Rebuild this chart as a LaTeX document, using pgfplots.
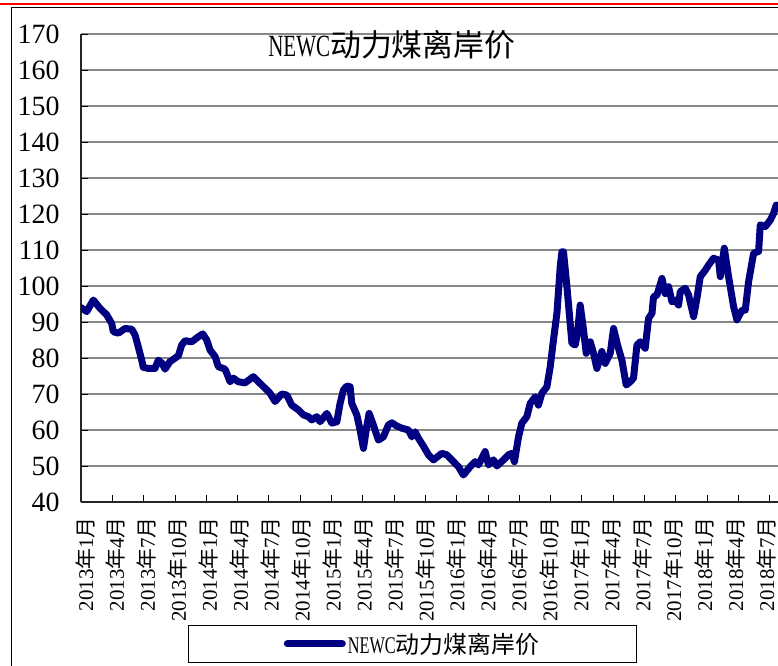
\documentclass[border=0pt]{standalone}
\usepackage{fontspec}
\setmainfont{Liberation Serif}
\newfontfamily\cjk{Noto Sans CJK SC}
\newfontfamily\narrow[FakeStretch=0.68]{Liberation Serif}
\usepackage{pgfplots}
\pgfplotsset{compat=1.18}
\definecolor{navy}{RGB}{0,0,128}
\definecolor{gridgray}{RGB}{135,135,135}
\newcommand{\ym}[2]{#1{\cjk 年}#2{\cjk 月}}
\begin{document}
\begin{tikzpicture}[x=1bp,y=1bp]
\useasboundingbox (0,0) rectangle (778,666);
\fill[white] (0,0) rectangle (778,666);
\draw[red, line width=2.5bp] (0,662) -- (778,662);
\draw[black, line width=0.8bp] (11,-2) -- (11,659) -- (780,659);
\begin{axis}[
  at={(81bp,164bp)}, anchor=south west,
  width=697bp, height=468bp, scale only axis,
  xmin=0, xmax=66.8, ymin=40, ymax=170,
  axis x line*=bottom, axis y line*=left,
  axis line style={-, black!85, line width=1.6bp},
  tick align=inside,
  ytick={40,50,...,170},
  xtick={0,3,...,66},
  xticklabels={},
  extra x ticks={0.29,3.26,6.22,9.19,12.16,15.13,18.09,21.06,24.03,26.99,29.96,32.93,
                 35.89,38.86,41.83,44.80,47.76,50.73,53.70,56.66,59.63,62.60,65.56},
  extra x tick labels={\ym{2013}{1},\ym{2013}{4},\ym{2013}{7},\ym{2013}{10},
               \ym{2014}{1},\ym{2014}{4},\ym{2014}{7},\ym{2014}{10},
               \ym{2015}{1},\ym{2015}{4},\ym{2015}{7},\ym{2015}{10},
               \ym{2016}{1},\ym{2016}{4},\ym{2016}{7},\ym{2016}{10},
               \ym{2017}{1},\ym{2017}{4},\ym{2017}{7},\ym{2017}{10},
               \ym{2018}{1},\ym{2018}{4},\ym{2018}{7}},
  extra x tick style={major tick length=0pt},
  ymajorgrids, grid style={gridgray, line width=1.6bp},
  major tick style={black, line width=0.8bp}, major tick length=7bp,
  /pgf/number format/assume math mode=true,
  yticklabel style={font=\fontsize{28}{28}\selectfont, xshift=-18bp},
  xticklabel style={font=\fontsize{21}{21}\selectfont, inner sep=1bp, xshift=1bp, yshift=-14bp, rotate=90, anchor=east},
  title={{\narrow NEWC}{\cjk 动力煤离岸价}},
  title style={at={(0.446,0.964)}, anchor=center, font=\fontsize{31}{31}\selectfont},
  legend style={at={(0.4756,-0.303)}, anchor=center, draw=black, line width=0.8bp,
    inner xsep=95bp, inner ysep=6bp, font=\fontsize{24}{24}\selectfont},
  legend image code/.code={\draw[#1, line width=7bp, line cap=round] (0bp,0bp) -- (55bp,0bp);},
]
\addplot[navy, line width=7bp, line join=round, line cap=round] coordinates {
(0,94) (0.55,92.9) (1.18,96.1) (1.82,93.8) (2.46,92) (2.94,89.6) (3.10,87.3)
(3.58,86.9) (4.22,88.2) (4.86,88) (5.18,86.4) (5.49,83.1) (5.82,79.4) (5.97,77.4)
(6.45,77.1) (7.09,77.1) (7.41,79.4) (7.79,78.5) (8.05,76.9) (8.53,79) (9.33,80.6)
(9.65,83.6) (9.97,84.8) (10.61,84.5) (11.25,85.9) (11.67,86.7) (12.05,85)
(12.37,82.2) (12.85,80.4) (13.16,77.6) (13.81,76.9) (14.29,73.4) (14.60,74.4)
(15.08,73.4) (15.72,73.1) (16.52,74.8) (17.00,73.4) (17.64,71.6) (18.12,70.2)
(18.60,67.9) (19.24,70) (19.72,69.7) (20.20,66.9) (20.83,65.6) (21.31,64.2)
(21.79,63.7) (22.12,62.8) (22.60,63.7) (22.91,62.3) (23.56,64.6) (24.04,61.9)
(24.52,62.3) (24.83,67.4) (25.15,71.1) (25.47,72.2) (25.79,72) (25.95,67.4)
(26.43,64.2) (26.75,60) (27.07,54.9) (27.39,61.1) (27.61,64.6) (28.02,61.4)
(28.50,57.2) (28.98,58.1) (29.46,61.4) (29.79,62) (30.27,61.1) (30.75,60.5)
(31.38,60) (31.71,58.1) (32.02,59.5) (32.34,57.7) (32.82,55.5) (33.30,53.1)
(33.78,51.7) (34.58,53.5) (35.06,53.1) (35.70,51.2) (36.17,49.8) (36.65,47.5)
(37.30,49.8) (37.78,51.2) (38.09,50.3) (38.73,54) (39.05,50.3) (39.53,51.7)
(39.86,50) (40.49,51.7) (40.97,53.1) (41.29,53.5) (41.54,51.2) (41.93,58.1)
(42.25,61.9) (42.73,63.7) (43.05,67.4) (43.53,69.2) (43.84,66.9) (44.17,70.2)
(44.65,72) (44.97,77.6) (45.28,85) (45.61,92.4) (45.93,105.4) (46.09,109.5)
(46.24,109.5) (46.57,99.8) (47.05,84.1) (47.36,83.6) (47.58,86.9) (47.84,94.7)
(48.16,87.8) (48.42,81.3) (48.80,84.5) (49.12,81.3) (49.44,77.1) (49.92,81.8)
(50.24,78.5) (50.72,81.3) (51.04,88.2) (51.42,83.6) (51.84,79.4) (52.25,72.5)
(52.64,73.4) (52.95,74.4) (53.28,83.6) (53.60,84.5) (54.07,82.7) (54.39,91)
(54.72,92.4) (54.87,97) (55.20,97.5) (55.68,102.1) (55.99,97.9) (56.31,99.8)
(56.64,95.6) (56.95,96.1) (57.27,94.7) (57.43,98.4) (57.91,99.4) (58.23,97.5)
(58.71,91.5) (59.03,96.6) (59.35,102.6) (59.83,104.4) (60.14,105.8) (60.62,107.7)
(61.10,107.2) (61.27,102.6) (61.65,110.5) (62.06,102.6) (62.54,94.3) (62.86,90.6)
(63.35,93.3) (63.66,93.3) (63.98,101.2) (64.46,109.1) (64.94,109.6) (65.10,117)
(65.58,116.5) (66.06,118.3) (66.38,120.2) (66.63,122.5)
};
\addlegendentry{{\narrow NEWC}{\cjk 动力煤离岸价}}
\end{axis}
\end{tikzpicture}
\end{document}
